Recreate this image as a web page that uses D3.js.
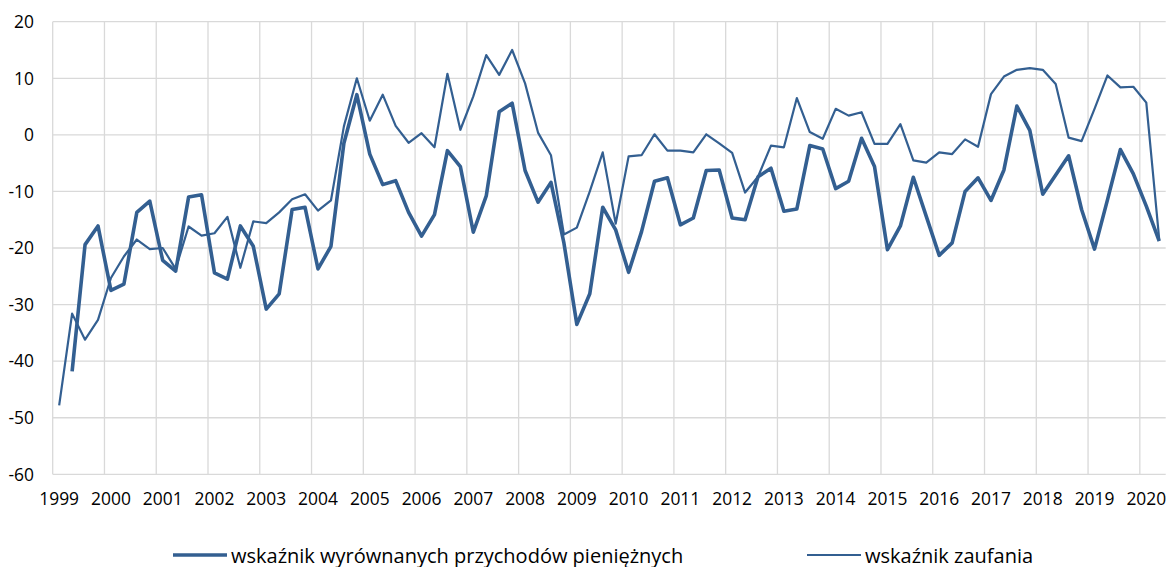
<!DOCTYPE html>
<html>
<head>
<meta charset="utf-8">
<script src="https://cdn.jsdelivr.net/npm/d3@7"></script>
<style>
	body { margin: 0; background: #fff; }
	svg { display: block; }
</style>
</head>
<body>
<div id="chart"></div>
<script>
// quarterly data, 1999 Q1 .. 2020 Q2
var years = [1999, 2000, 2001, 2002, 2003, 2004, 2005, 2006, 2007, 2008, 2009,
             2010, 2011, 2012, 2013, 2014, 2015, 2016, 2017, 2018, 2019, 2020];
var yTicks = [20, 10, 0, -10, -20, -30, -40, -50, -60];

var cashFlow = [null, -41.8, -19.4, -16.1, -27.5, -26.4, -13.7, -11.7, -22.2, -24.1,
	-11.0, -10.6, -24.4, -25.5, -16.1, -19.7, -30.8, -28.1, -13.2, -12.8,
	-23.7, -19.7, -1.5, 7.1, -3.4, -8.8, -8.1, -13.7, -17.9, -14.1,
	-2.8, -5.6, -17.2, -10.8, 4.1, 5.6, -6.3, -11.9, -8.4, -19.1,
	-33.5, -28.1, -12.8, -16.8, -24.3, -17.1, -8.2, -7.6, -15.9, -14.7,
	-6.3, -6.2, -14.7, -15.0, -7.4, -5.9, -13.5, -13.1, -1.9, -2.5,
	-9.5, -8.2, -0.6, -5.6, -20.3, -16.1, -7.5, -14.4, -21.3, -19.1,
	-10.0, -7.6, -11.6, -6.2, 5.1, 0.8, -10.5, -7.1, -3.7, -13.2,
	-20.2, -11.5, -2.6, -6.9, -12.6, -18.8];

var confidence = [-47.8, -31.6, -36.2, -32.7, -25.3, -21.5, -18.5, -20.2, -20.0, -23.7,
	-16.2, -17.8, -17.4, -14.5, -23.5, -15.3, -15.6, -13.7, -11.4, -10.5,
	-13.4, -11.6, 1.5, 10.0, 2.5, 7.1, 1.6, -1.4, 0.3, -2.2,
	10.8, 0.9, 6.8, 14.1, 10.6, 15.0, 9.1, 0.4, -3.6, -17.6,
	-16.4, -10.0, -3.1, -15.7, -3.8, -3.6, 0.1, -2.8, -2.8, -3.1,
	0.1, -1.5, -3.2, -10.2, -7.4, -1.9, -2.2, 6.5, 0.5, -0.7,
	4.6, 3.4, 4.0, -1.6, -1.6, 1.9, -4.5, -4.9, -3.1, -3.4,
	-0.8, -2.1, 7.2, 10.3, 11.5, 11.8, 11.5, 9.0, -0.5, -1.1,
	4.6, 10.5, 8.4, 8.5, 5.7, -18.5];

var seriesNames = ["wskaźnik wyrównanych przychodów pieniężnych", "wskaźnik zaufania"];

// Style setting
var width = 1168, height = 567;
var lineColor = "#335f91";
var gridColor = "#d9d9d9";
var font = "'Open Sans', 'Liberation Sans', sans-serif";
var axisSize = "17.4px";
var legendSize = "20px";
var plotL = 52.7, plotR = 1165.7, plotT = 21.7, plotB = 474.3;

var n = confidence.length;

var x = d3.scaleLinear().domain([-0.5, n - 0.5]).range([plotL, plotR]);
var y = d3.scaleLinear().domain([-60, 20]).range([plotB, plotT]);

var svg = d3.select("#chart").append("svg")
	.attr("width", width)
	.attr("height", height);

// horizontal grid
svg.append("g")
	.selectAll("line")
	.data(yTicks)
	.enter().append("line")
	.attr("x1", plotL).attr("x2", plotR)
	.attr("y1", function(d) { return y(d); })
	.attr("y2", function(d) { return y(d); })
	.attr("stroke", gridColor)
	.attr("stroke-width", 1.3);

// vertical grid on year boundaries
svg.append("g")
	.selectAll("line")
	.data(years)
	.enter().append("line")
	.attr("x1", function(d, i) { return x(i * 4 - 0.5); })
	.attr("x2", function(d, i) { return x(i * 4 - 0.5); })
	.attr("y1", plotT).attr("y2", plotB)
	.attr("stroke", gridColor)
	.attr("stroke-width", 1.3);

// y labels
svg.append("g")
	.selectAll("text")
	.data(yTicks)
	.enter().append("text")
	.attr("x", 34)
	.attr("y", function(d) { return y(d); })
	.attr("dy", "0.36em")
	.attr("text-anchor", "end")
	.style("font-family", font)
	.style("font-size", axisSize)
	.style("fill", "#000")
	.text(function(d) { return d; });

// x labels, one per year at first quarter
svg.append("g")
	.selectAll("text")
	.data(years)
	.enter().append("text")
	.attr("x", function(d, i) { return x(i * 4); })
	.attr("y", 505)
	.attr("text-anchor", "middle")
	.style("font-family", font)
	.style("font-size", axisSize)
	.style("fill", "#000")
	.text(function(d) { return d; });

var line = d3.line()
	.defined(function(d) { return d != null; })
	.x(function(d, i) { return x(i); })
	.y(function(d) { return y(d); });

svg.append("path")
	.datum(confidence)
	.attr("d", line)
	.attr("fill", "none")
	.attr("stroke", lineColor)
	.attr("stroke-width", 2.2)
	.attr("stroke-linejoin", "round");

svg.append("path")
	.datum(cashFlow)
	.attr("d", line)
	.attr("fill", "none")
	.attr("stroke", lineColor)
	.attr("stroke-width", 3.6)
	.attr("stroke-linejoin", "round");

// legend
var legend = [
	{ name: seriesNames[0], x: 173, w: 3.6 },
	{ name: seriesNames[1], x: 807, w: 2.2 }
];
var lg = svg.append("g")
	.selectAll("g")
	.data(legend)
	.enter().append("g")
	.attr("transform", function(d) { return "translate(" + d.x + ",555)"; });
lg.append("line")
	.attr("x1", 0).attr("x2", 54)
	.attr("stroke", lineColor)
	.attr("stroke-width", function(d) { return d.w; });
lg.append("text")
	.attr("x", 58)
	.attr("y", 7.5)
	.style("font-family", font)
	.style("font-size", legendSize)
	.style("fill", "#000")
	.text(function(d) { return d.name; });
</script>
</body>
</html>
